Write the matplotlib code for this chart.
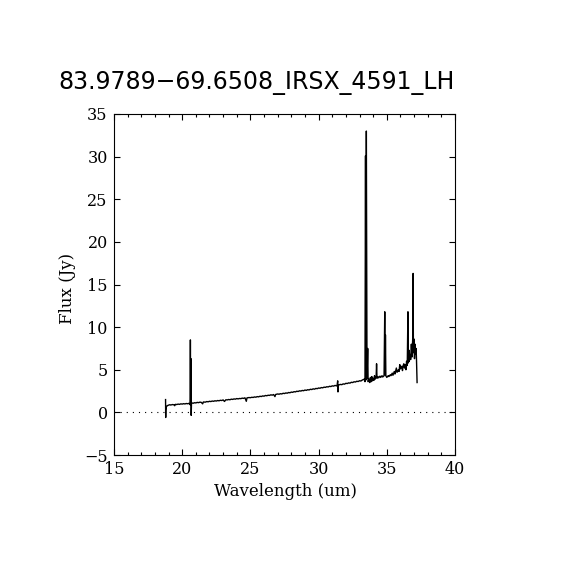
import matplotlib
matplotlib.use("Agg")
import matplotlib.pyplot as plt

title = "83.9789\u221269.6508_IRSX_4591_LH"
xlabel = "Wavelength (um)"
ylabel = "Flux (Jy)"

wavelength = [
    18.78, 18.79, 18.80, 18.84, 18.90, 19.00, 19.10, 19.15, 19.30, 19.40,
    19.45, 19.50, 19.60, 19.70, 19.80, 19.90, 20.00, 20.10, 20.20, 20.30,
    20.40, 20.50, 20.58, 20.60, 20.62, 20.64, 20.66, 20.68, 20.80, 20.90,
    21.00, 21.10, 21.20, 21.30, 21.40, 21.50, 21.55, 21.70, 21.80, 21.90,
    22.00, 22.10, 22.20, 22.30, 22.40, 22.50, 22.60, 22.70, 22.80, 22.90,
    23.00, 23.10, 23.20, 23.30, 23.40, 23.50, 23.60, 23.70, 23.80, 23.90,
    24.00, 24.10, 24.20, 24.30, 24.40, 24.50, 24.60, 24.70, 24.75, 24.90,
    25.00, 25.10, 25.20, 25.30, 25.40, 25.50, 25.60, 25.70, 25.80, 25.90,
    26.00, 26.10, 26.20, 26.30, 26.40, 26.50, 26.60, 26.70, 26.80, 26.85,
    27.00, 27.10, 27.20, 27.30, 27.40, 27.50, 27.60, 27.70, 27.80, 27.90,
    28.00, 28.10, 28.20, 28.30, 28.40, 28.50, 28.60, 28.70, 28.80, 28.90,
    29.00, 29.10, 29.20, 29.30, 29.40, 29.50, 29.60, 29.70, 29.80, 29.90,
    30.00, 30.10, 30.20, 30.30, 30.40, 30.50, 30.60, 30.70, 30.80, 30.90,
    31.00, 31.10, 31.20, 31.35, 31.40, 31.42, 31.45, 31.60, 31.70, 31.80,
    31.90, 32.00, 32.10, 32.20, 32.30, 32.40, 32.50, 32.60, 32.70, 32.80,
    32.90, 33.00, 33.10, 33.20, 33.35, 33.40, 33.44, 33.47, 33.50, 33.55,
    33.60, 33.63, 33.70, 33.75, 33.80, 33.85, 33.90, 33.95, 34.00, 34.05,
    34.10, 34.15, 34.22, 34.25, 34.28, 34.35, 34.40, 34.50, 34.55, 34.65,
    34.70, 34.80, 34.85, 34.88, 34.90, 34.93, 35.00, 35.10, 35.15, 35.25,
    35.30, 35.40, 35.45, 35.55, 35.60, 35.70, 35.75, 35.85, 35.90, 35.95,
    36.00, 36.05, 36.10, 36.15, 36.20, 36.25, 36.30, 36.35, 36.40, 36.45,
    36.50, 36.55, 36.58, 36.62, 36.65, 36.70, 36.75, 36.80, 36.85, 36.90,
    36.93, 36.95, 37.00, 37.03, 37.07, 37.10, 37.15, 37.18, 37.22,
]
flux = [
    1.50, -0.60, 0.30, 0.65, 0.78, 0.85, 0.90, 0.86, 0.92, 0.88,
    0.78, 0.94, 0.92, 0.97, 0.94, 1.00, 0.97, 1.02, 0.99, 1.04,
    1.01, 1.06, 0.90, 8.50, 1.00, 6.30, -0.35, 1.12, 1.07, 1.13,
    1.11, 1.17, 1.14, 1.20, 1.17, 1.00, 1.22, 1.20, 1.27, 1.24,
    1.30, 1.27, 1.33, 1.30, 1.36, 1.33, 1.39, 1.36, 1.42, 1.39,
    1.46, 1.28, 1.48, 1.46, 1.51, 1.48, 1.55, 1.52, 1.58, 1.55,
    1.62, 1.58, 1.63, 1.61, 1.67, 1.64, 1.71, 1.30, 1.70, 1.74,
    1.72, 1.77, 1.75, 1.81, 1.78, 1.85, 1.82, 1.89, 1.86, 1.93,
    1.90, 1.98, 1.95, 2.01, 1.99, 2.06, 2.02, 2.09, 1.85, 2.10,
    2.16, 2.13, 2.19, 2.16, 2.24, 2.21, 2.28, 2.25, 2.33, 2.30,
    2.38, 2.35, 2.43, 2.40, 2.48, 2.45, 2.53, 2.50, 2.57, 2.54,
    2.62, 2.58, 2.66, 2.63, 2.71, 2.68, 2.76, 2.72, 2.81, 2.78,
    2.86, 2.83, 2.91, 2.88, 2.96, 2.93, 3.01, 2.98, 3.06, 3.03,
    3.11, 3.08, 3.16, 3.10, 3.70, 2.40, 3.20, 3.28, 3.25, 3.34,
    3.31, 3.41, 3.38, 3.46, 3.43, 3.53, 3.50, 3.59, 3.56, 3.65,
    3.62, 3.71, 3.68, 3.79, 3.90, 3.60, 30.10, 3.80, 33.00, 4.00,
    7.50, 3.60, 3.90, 3.50, 4.10, 3.60, 4.20, 3.70, 4.00, 3.75,
    4.30, 3.90, 4.20, 5.70, 4.00, 4.20, 4.05, 4.25, 4.10, 4.30,
    4.15, 4.30, 11.80, 4.40, 9.10, 4.30, 4.10, 4.30, 4.20, 4.40,
    4.30, 4.60, 4.35, 4.80, 4.50, 5.20, 4.70, 5.00, 4.80, 5.60,
    5.10, 5.30, 5.40, 4.90, 5.50, 5.70, 5.20, 5.60, 5.00, 6.00,
    5.50, 11.80, 5.80, 7.30, 6.00, 6.80, 6.20, 8.00, 6.50, 8.70,
    16.30, 7.00, 8.60, 6.30, 8.00, 6.80, 7.50, 6.00, 3.50,
]

xticks = [15, 20, 25, 30, 35, 40]
yticks = [-5, 0, 5, 10, 15, 20, 25, 30, 35]

fig = plt.figure(figsize=(5.7, 5.7), dpi=100)
fig.patch.set_facecolor("white")
ax = fig.add_axes([114 / 570, 1 - 455 / 570, 341 / 570, 341 / 570])

ax.plot(wavelength, flux, color="black", lw=1.0)
ax.axhline(0, color="black", lw=0.8, linestyle=(0, (1, 4.5)))

ax.set_xlim(15, 40)
ax.set_ylim(-5, 35)
ax.set_xticks(xticks)
ax.set_yticks(yticks)
ax.set_xticks([x for x in range(15, 41) if x % 5 != 0], minor=True)

ax.tick_params(which="both", direction="in", top=True, right=True,
               width=0.8, colors="black")
ax.tick_params(which="major", length=4, pad=4.5, labelsize=11.5)
ax.tick_params(which="minor", length=2)
for lab in ax.get_xticklabels() + ax.get_yticklabels():
    lab.set_family("DejaVu Serif")
for s in ax.spines.values():
    s.set_linewidth(0.8)

fig.text(285 / 570, 1 - 491 / 570, xlabel, ha="center", va="center",
         family="DejaVu Serif", fontsize=12)
fig.text(67 / 570, 1 - 288 / 570, ylabel, ha="center", va="center",
         rotation=90, family="DejaVu Serif", fontsize=12)
fig.text(58 / 570, 1 - 89 / 570, title, ha="left", va="baseline",
         family="DejaVu Sans", fontsize=17)

fig.savefig("out.png", dpi=100, facecolor="white")
